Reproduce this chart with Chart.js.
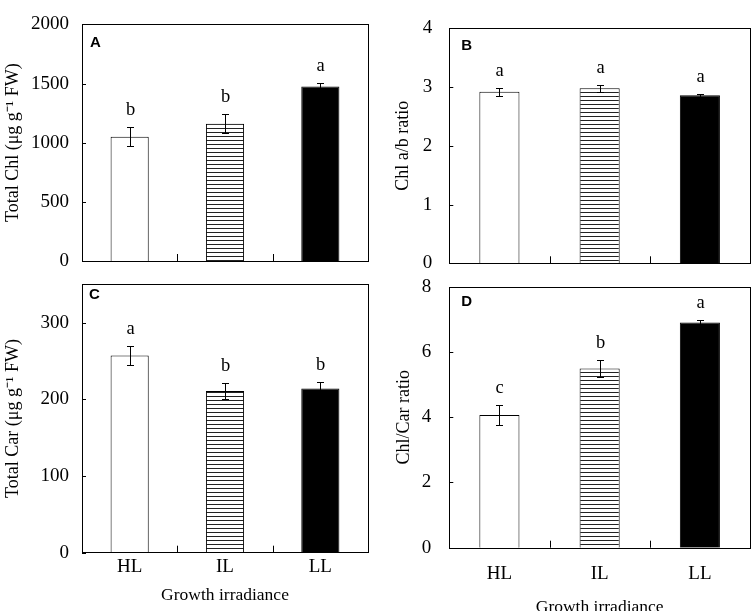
<!DOCTYPE html>
<html>
<head>
<meta charset="utf-8">
<script src="https://cdn.jsdelivr.net/npm/chart.js@4.4.0/dist/chart.umd.min.js"></script>
<style>
html, body { margin: 0; padding: 0; background: #fff; overflow: hidden; }
#wrap { position: relative; width: 756px; height: 611px; }
canvas { position: absolute; left: 0; top: 0; }
</style>
</head>
<body>
<div id="wrap">
  <canvas id="chartA" width="756" height="611"></canvas>
  <canvas id="chartB" width="756" height="611"></canvas>
  <canvas id="chartC" width="756" height="611"></canvas>
  <canvas id="chartD" width="756" height="611"></canvas>
</div>
<script>
const categories = ['HL', 'IL', 'LL'];

// A: total chlorophyll
const totalChl = [1050, 1160, 1475];
const totalChlErr = [80, 80, 30];
const totalChlLetters = ['b', 'b', 'a'];
const totalChlTicks = [0, 500, 1000, 1500, 2000];

// B: chl a/b
const chlAB = [2.92, 2.98, 2.86];
const chlABErr = [0.07, 0.06, 0.02];
const chlABLetters = ['a', 'a', 'a'];
const chlABTicks = [0, 1, 2, 3, 4];

// C: total carotenoids
const totalCar = [257, 211, 214];
const totalCarErr = [12, 10, 9];
const totalCarLetters = ['a', 'b', 'b'];
const totalCarTicks = [0, 100, 200, 300];

// D: chl/car
const chlCar = [4.07, 5.49, 6.9];
const chlCarErr = [0.3, 0.27, 0.08];
const chlCarLetters = ['c', 'b', 'a'];
const chlCarTicks = [0, 2, 4, 6, 8];

Chart.defaults.font.family = "'Liberation Serif', 'Times New Roman', serif";
Chart.defaults.color = '#000';

const tickFont = { size: 19 };
const titleFont = { size: 17.5 };

function hatch(ctx) {
    const c = document.createElement('canvas');
    c.width = 4; c.height = 4;
    const g = c.getContext('2d');
    g.fillStyle = '#fff';
    g.fillRect(0, 0, 4, 4);
    g.fillStyle = '#222';
    g.fillRect(0, 0, 4, 1);
    return ctx.createPattern(c, 'repeat');
}

// error bars, significance letters, frame, inner ticks, panel letter
const panelPlugin = {
    id: 'panel',
    afterDatasetsDraw(chart, args, opts) {
        const { ctx, chartArea: a, scales: { x, y } } = chart;
        const r = v => Math.round(v) + 0.5;
        ctx.save();
        ctx.strokeStyle = '#000';
        ctx.lineWidth = 1;
        ctx.fillStyle = '#000';
        ctx.font = "18.5px 'Liberation Serif', serif";
        ctx.textAlign = 'center';
        ctx.textBaseline = 'middle';
        opts.values.forEach((v, i) => {
            const px = r(x.getPixelForValue(i));
            const top = r(y.getPixelForValue(v + opts.errors[i]));
            const bot = r(y.getPixelForValue(v - opts.errors[i]));
            ctx.beginPath();
            ctx.moveTo(px, top); ctx.lineTo(px, bot);
            ctx.moveTo(px - 3.5, top); ctx.lineTo(px + 3.5, top);
            ctx.moveTo(px - 3.5, bot); ctx.lineTo(px + 3.5, bot);
            ctx.stroke();
            ctx.fillText(opts.letters[i], px, top - 17);
        });
        // frame
        ctx.strokeRect(r(a.left), r(a.top), Math.round(a.width), Math.round(a.height));
        // y ticks pointing inward
        ctx.beginPath();
        y.ticks.forEach(t => {
            const py = r(y.getPixelForValue(t.value));
            ctx.moveTo(a.left, py); ctx.lineTo(a.left + 4, py);
        });
        // category boundary ticks on the bottom
        for (let i = 0; i < categories.length - 1; i++) {
            const px = r((x.getPixelForValue(i) + x.getPixelForValue(i + 1)) / 2);
            ctx.moveTo(px, a.bottom); ctx.lineTo(px, a.bottom - 7);
        }
        ctx.stroke();
        // panel letter
        ctx.font = "bold 15px 'Liberation Sans', Arial, sans-serif";
        ctx.textAlign = 'left';
        ctx.fillText(opts.tag, a.left + opts.tagDx, a.top + opts.tagDy);
        ctx.restore();
    }
};

function makePanel(id, cfg) {
    const ctx = document.getElementById(id).getContext('2d');
    return new Chart(ctx, {
        type: 'bar',
        data: {
            labels: categories,
            datasets: [{
                data: cfg.values,
                backgroundColor: ['#fff', hatch(ctx), '#000'],
                borderColor: '#000',
                borderWidth: 1,
                barPercentage: 0.4,
                categoryPercentage: 1
            }]
        },
        options: {
            responsive: false,
            animation: false,
            layout: { padding: cfg.padding },
            plugins: {
                legend: { display: false },
                tooltip: { enabled: false },
                panel: {
                    values: cfg.values,
                    errors: cfg.errors,
                    letters: cfg.letters,
                    tag: cfg.tag,
                    tagDx: cfg.tagDx,
                    tagDy: cfg.tagDy
                }
            },
            scales: {
                x: {
                    display: cfg.showX,
                    grid: { display: false, drawTicks: false },
                    border: { display: false },
                    ticks: { padding: cfg.xTickPad, font: tickFont },
                    title: {
                        display: cfg.showX,
                        text: 'Growth irradiance',
                        font: titleFont,
                        padding: { top: 0, bottom: cfg.xTitlePad }
                    },
                    afterFit: s => { s.height = cfg.xHeight; }
                },
                y: {
                    min: cfg.min,
                    max: cfg.max,
                    afterBuildTicks: s => { s.ticks = cfg.ticks.map(v => ({ value: v })); },
                    grid: { display: false, drawTicks: false },
                    border: { display: false },
                    ticks: { padding: cfg.yTickPad, font: tickFont, callback: v => String(v) },
                    title: {
                        display: true,
                        text: cfg.yTitle,
                        font: { size: 18 },
                        padding: { top: 0, bottom: 0 }
                    },
                    afterFit: s => { s.width = cfg.yWidth; }
                }
            }
        },
        plugins: [panelPlugin]
    });
}

makePanel('chartA', {
    values: totalChl, errors: totalChlErr, letters: totalChlLetters, ticks: totalChlTicks,
    min: 0, max: 2000, yTitle: 'Total Chl (μg g⁻¹ FW)', tag: 'A', tagDx: 8, tagDy: 18,
    padding: { left: 2.5, top: 7, right: 388, bottom: 350 }, yWidth: 79.5, yTickPad: 13,
    showX: false, xHeight: 0, xTickPad: 0, xTitlePad: 0
});

makePanel('chartB', {
    values: chlAB, errors: chlABErr, letters: chlABLetters, ticks: chlABTicks,
    min: 0, max: 4, yTitle: 'Chl a/b ratio', tag: 'B', tagDx: 12, tagDy: 17,
    padding: { left: 392.2, top: 5.7, right: 6, bottom: 347.7 }, yWidth: 57.1, yTickPad: 17,
    showX: false, xHeight: 0, xTickPad: 0, xTitlePad: 0
});

makePanel('chartC', {
    values: totalCar, errors: totalCarErr, letters: totalCarLetters, ticks: totalCarTicks,
    min: 0, max: 350, yTitle: 'Total Car (μg g⁻¹ FW)', tag: 'C', tagDx: 7, tagDy: 11,
    padding: { left: 2, top: 284.3, right: 388, bottom: 5.5 }, yWidth: 80, yTickPad: 13,
    showX: true, xHeight: 52.8, xTickPad: 3, xTitlePad: 0
});

makePanel('chartD', {
    values: chlCar, errors: chlCarErr, letters: chlCarLetters, ticks: chlCarTicks,
    min: 0, max: 8, yTitle: 'Chl/Car ratio', tag: 'D', tagDx: 12, tagDy: 15,
    padding: { left: 393.8, top: 286.7, right: 6, bottom: 0 }, yWidth: 55.5, yTickPad: 18,
    showX: true, xHeight: 63.3, xTickPad: 14.5, xTitlePad: -6.5
});
</script>
</body>
</html>
